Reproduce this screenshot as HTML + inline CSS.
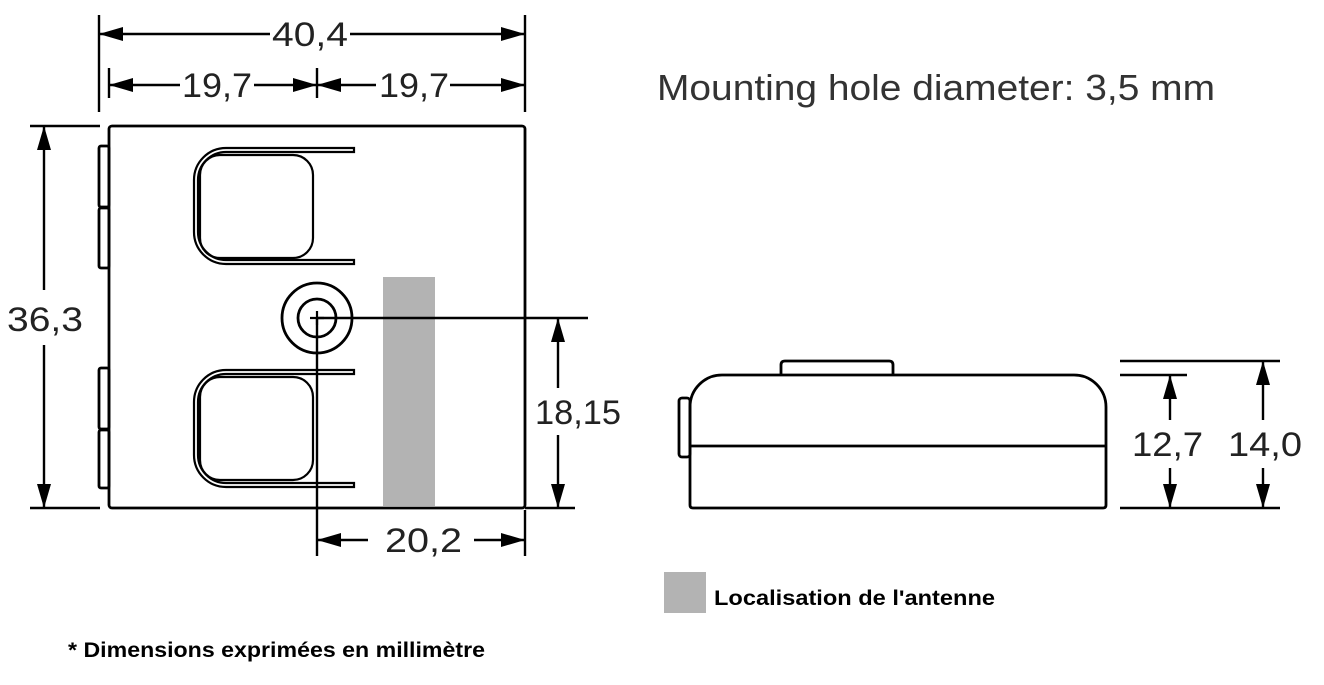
<!DOCTYPE html>
<html><head><meta charset="utf-8"><style>
html,body{margin:0;padding:0;background:#fff;width:1324px;height:685px;overflow:hidden}
svg{display:block}
text{font-family:"Liberation Sans",Arial,sans-serif;fill:#222}
</style></head><body>
<svg width="1324" height="685" viewBox="0 0 1324 685" xmlns="http://www.w3.org/2000/svg">
<defs>
<marker id="a" viewBox="0 0 24 14" refX="24" refY="7" markerWidth="24" markerHeight="14" markerUnits="userSpaceOnUse" orient="auto-start-reverse"><path d="M0,0 L24,7 L0,14 z" fill="#000"/></marker>
</defs>
<g stroke="#000" stroke-width="2.8" fill="none">
<rect x="109" y="126" width="416" height="382" rx="3"/>
<rect x="99" y="146" width="10" height="61" rx="2"/>
<rect x="99" y="208" width="10" height="60" rx="2"/>
<rect x="99" y="368" width="10" height="61" rx="2"/>
<rect x="99" y="430" width="10" height="58" rx="2"/>
<path d="M354,148 H226 A32,32 0 0 0 194,180 V232 A32,32 0 0 0 226,264 H354 V260 H226 A28,28 0 0 1 198,232 V180 A28,28 0 0 1 226,152 H354 Z" stroke-width="2.2"/>
<rect x="200" y="155" width="113" height="103" rx="20" stroke-width="2.2"/>
<path d="M354,370 H226 A32,32 0 0 0 194,402 V455 A32,32 0 0 0 226,487 H354 V483 H226 A28,28 0 0 1 198,455 V402 A28,28 0 0 1 226,374 H354 Z" stroke-width="2.2"/>
<rect x="200" y="377" width="113" height="103" rx="20" stroke-width="2.2"/>
<circle cx="317" cy="318" r="35"/>
<circle cx="317" cy="318" r="19"/>
<path d="M310,318 H324 M317,311 V325" stroke-width="2.2"/>
</g>
<rect x="383" y="277" width="52" height="229" fill="#b3b3b3"/>
<g stroke="#000" stroke-width="2.4" fill="none">
<path d="M317,318 V556 M317,318 H588"/>
<path d="M99,15 V112 M525,15 V112 M109,68 V98 M317,68 V98 M30,126 H100 M30,508 H100 M525,508 H575 M525,510 V556"/>
<line x1="99" y1="34" x2="270" y2="34" marker-start="url(#a)"/>
<line x1="350" y1="34" x2="525" y2="34" marker-end="url(#a)"/>
<line x1="109" y1="85" x2="180" y2="85" marker-start="url(#a)"/>
<line x1="254" y1="85" x2="317" y2="85" marker-end="url(#a)"/>
<line x1="317" y1="85" x2="376" y2="85" marker-start="url(#a)"/>
<line x1="450" y1="85" x2="525" y2="85" marker-end="url(#a)"/>
<line x1="44" y1="126" x2="44" y2="290" marker-start="url(#a)"/>
<line x1="44" y1="345" x2="44" y2="508" marker-end="url(#a)"/>
<line x1="558" y1="318" x2="558" y2="388" marker-start="url(#a)"/>
<line x1="558" y1="435" x2="558" y2="508" marker-end="url(#a)"/>
<line x1="317" y1="540" x2="368" y2="540" marker-start="url(#a)"/>
<line x1="474" y1="540" x2="525" y2="540" marker-end="url(#a)"/>
</g>
<g font-size="34" lengthAdjust="spacingAndGlyphs">
<text x="272" y="46" textLength="76" lengthAdjust="spacingAndGlyphs">40,4</text>
<text x="182" y="97" textLength="70" lengthAdjust="spacingAndGlyphs">19,7</text>
<text x="379" y="97" textLength="70" lengthAdjust="spacingAndGlyphs">19,7</text>
<text x="7" y="331" textLength="76" lengthAdjust="spacingAndGlyphs">36,3</text>
<text x="535" y="424" textLength="86" lengthAdjust="spacingAndGlyphs">18,15</text>
<text x="385" y="552" textLength="77" lengthAdjust="spacingAndGlyphs">20,2</text>
<text x="1132" y="456" textLength="71" lengthAdjust="spacingAndGlyphs">12,7</text>
<text x="1228" y="456" textLength="74" lengthAdjust="spacingAndGlyphs">14,0</text>
</g>
<text x="657" y="100" font-size="36" textLength="558" lengthAdjust="spacingAndGlyphs" style="fill:#333">Mounting hole diameter: 3,5 mm</text>
<g stroke="#000" stroke-width="2.8" fill="none">
<path d="M690,505 V407 A32,32 0 0 1 722,375 H1074 A32,32 0 0 1 1106,407 V505 Q1106,508 1103,508 H693 Q690,508 690,505 Z"/>
<path d="M690,446 H1106"/>
<rect x="679" y="398" width="11" height="59" rx="3"/>
<path d="M781,375 V365 Q781,361 785,361 H889 Q893,361 893,365 V375"/>
</g>
<g stroke="#000" stroke-width="2.4" fill="none">
<path d="M1120,361 H1280 M1120,375 H1187 M1120,508 H1280"/>
<line x1="1170" y1="375" x2="1170" y2="420" marker-start="url(#a)"/>
<line x1="1170" y1="468" x2="1170" y2="508" marker-end="url(#a)"/>
<line x1="1263" y1="361" x2="1263" y2="420" marker-start="url(#a)"/>
<line x1="1263" y1="468" x2="1263" y2="508" marker-end="url(#a)"/>
</g>
<rect x="664" y="572" width="42" height="41" fill="#b3b3b3"/>
<text x="714" y="605" font-size="21" font-weight="bold" textLength="281" lengthAdjust="spacingAndGlyphs" style="fill:#000">Localisation de l'antenne</text>
<text x="68" y="657" font-size="21" font-weight="bold" textLength="417" lengthAdjust="spacingAndGlyphs" style="fill:#000">* Dimensions exprimées en millimètre</text>
</svg>
</body></html>
